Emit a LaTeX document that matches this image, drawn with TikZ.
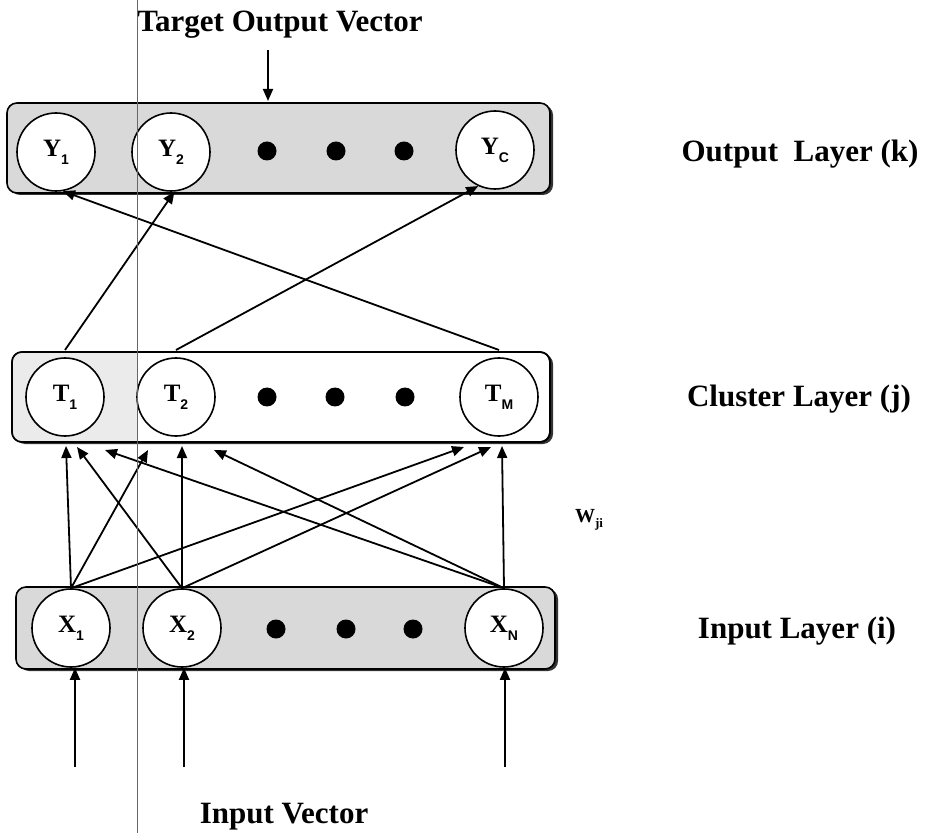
\documentclass[tikz,border=0pt]{standalone}
\usepackage{fontspec}
\setmainfont{Liberation Serif}
\setsansfont{Liberation Sans}
\usetikzlibrary{arrows.meta}

\tikzset{
  unit/.style={circle, draw, fill=white, line width=0.8pt, minimum size=39pt, inner sep=0pt},
  blob/.style={circle, fill=black, minimum size=9.5pt, inner sep=0pt},
  wire/.style={line width=0.9pt, -{Triangle[length=6pt,width=5pt]}},
  layer/.style={rounded corners=5pt, line width=0.8pt},
  shade/.style={rounded corners=5pt, fill=black!80},
  tag/.style={font=\fontsize{15.5}{18}\selectfont\bfseries, anchor=base},
}
\newcommand{\unitlbl}[2]{\fontsize{12.5}{14}\selectfont\bfseries #1\raisebox{-0.7ex}{\sffamily\fontsize{7}{8}\selectfont #2}}

\begin{document}
\begin{tikzpicture}[x=0.5pt,y=-0.5pt]
  \useasboundingbox (0,0) rectangle (930,833);

  % layer boxes
  \fill[shade] (10,105) rectangle (553,195);
  \filldraw[layer, fill=black!15] (7,103) rectangle (550,193);
  \fill[shade] (15,354) rectangle (553,444);
  \filldraw[layer, fill=white] (12,352) rectangle (550,442);
  \begin{scope}
    \clip[rounded corners=5pt] (12,352) rectangle (550,442);
    \fill[black!8] (12,352) rectangle (137,442);
  \end{scope}
  \draw[layer] (12,352) rectangle (550,442);
  \fill[shade] (19,589) rectangle (558,671);
  \filldraw[layer, fill=black!15] (16,587) rectangle (555,669);

  % output layer
  \node[unit] (Y1) at (56,152) {\unitlbl{Y}{1}};
  \node[unit] (Y2) at (171,152) {\unitlbl{Y}{2}};
  \node[unit] (YC) at (495,150) {\unitlbl{Y}{C}};
  \foreach \x in {267,336,404}
    \node[blob] (yd\x) at (\x,151) {};

  % cluster layer
  \node[unit] (T1) at (65,397) {\unitlbl{T}{1}};
  \node[unit] (T2) at (176,397) {\unitlbl{T}{2}};
  \node[unit] (TM) at (499,397) {\unitlbl{T}{M}};
  \foreach \x in {267,335,405}
    \node[blob] (td\x) at (\x,397) {};

  % input layer
  \node[unit] (X1) at (71,628) {\unitlbl{X}{1}};
  \node[unit] (X2) at (182,628) {\unitlbl{X}{2}};
  \node[unit] (XN) at (504,628) {\unitlbl{X}{N}};
  \foreach \x in {276,346,413}
    \node[blob] (xd\x) at (\x,629) {};

  % texts
  \node[tag] (target) at (280,32) {Target Output Vector};
  \node[tag] (invec) at (284,823) {Input Vector};
  \node[tag] (outlbl) at (800,162) {Output\ \ Layer (k)};
  \node[tag] (clulbl) at (799,407) {Cluster Layer (j)};
  \node[tag] (inlbl) at (797,638) {Input Layer (i)};
  \node[font=\fontsize{10}{12}\selectfont\bfseries] (wji) at (589,520)
    {W\raisebox{-0.6ex}{\fontsize{6.5}{8}\selectfont ji}};

  % ports
  \coordinate (ctop) at (0,350);
  \coordinate (t1a) at (66,446);
  \coordinate (t1b) at (77,447);
  \coordinate (t1c) at (105,450);
  \coordinate (t2a) at (148,450);
  \coordinate (t2b) at (182,446);
  \coordinate (t2c) at (214,450);
  \coordinate (tma) at (464,447);
  \coordinate (tmb) at (491,447);
  \coordinate (tmc) at (502,446);
  \coordinate (tgt) at (268,50);
  \coordinate (in1) at (75,767);
  \coordinate (in2) at (184,767);
  \coordinate (inN) at (505,767);

  % input -> cluster
  \draw[wire] (X1.north) -- (t1a);
  \draw[wire] (X1.north) -- (t2a);
  \draw[wire] (X1.north) -- (tma);
  \draw[wire] (X2.north) -- (t1b);
  \draw[wire] (X2.north) -- (t2b);
  \draw[wire] (X2.north) -- (tmb);
  \draw[wire] (XN.north) -- (t1c);
  \draw[wire] (XN.north) -- (t2c);
  \draw[wire] (XN.north) -- (tmc);

  % cluster -> output
  \draw[wire] (T1.north |- ctop) -- (Y2.275);
  \draw[wire] (T2.north |- ctop) -- (YC.245);
  \draw[wire] (TM.north |- ctop) -- (Y1.280);

  % vectors
  \draw[wire] (tgt) -- (268,101);
  \draw[wire] (in1) -- (in1 |- X1.south);
  \draw[wire] (in2) -- (in2 |- X2.south);
  \draw[wire] (inN) -- (inN |- XN.south);

  % scan line
  \draw[black!60, line width=0.5pt] (137,0) -- (137,833);
\end{tikzpicture}
\end{document}
